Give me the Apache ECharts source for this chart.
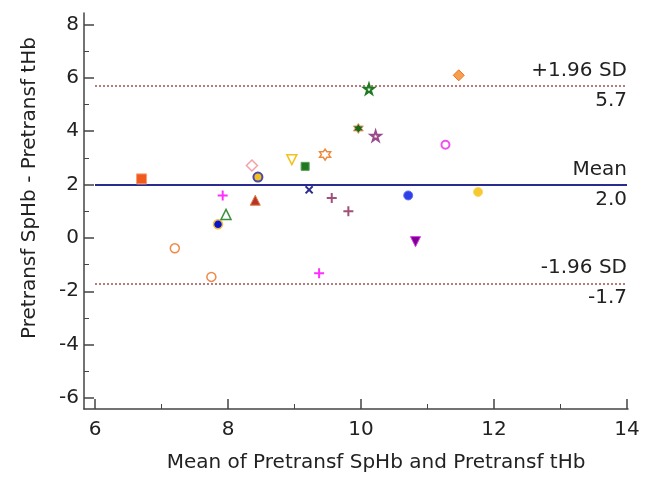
<!DOCTYPE html>
<html>
<head>
<meta charset="utf-8">
<script src="https://cdn.jsdelivr.net/npm/echarts@6/dist/echarts.min.js"></script>
<style>html,body{margin:0;padding:0;background:#fff}#c{width:650px;height:478px}</style>
</head>
<body>
<div id="c"></div>
<script>
// ---- data ----
const meanValues = [6.70, 7.20, 7.75, 7.85, 7.92, 7.97, 8.36, 8.41, 8.45, 8.96, 9.16, 9.22,
                    9.37, 9.46, 9.56, 9.81, 9.96, 10.12, 10.22, 10.71, 10.82, 11.27, 11.47, 11.76];
const diffValues = [2.21, -0.39, -1.46, 0.51, 1.59, 0.88, 2.71, 1.41, 2.28, 2.93, 2.68, 1.80,
                    -1.32, 3.12, 1.49, 1.00, 4.10, 5.58, 3.82, 1.59, -0.14, 3.49, 6.09, 1.72];
const meanDiff = 2.0;
const upperLimit = 5.7;
const lowerLimit = -1.7;
const lineRange = [6, 14];
const xTickValues = [6, 8, 10, 12, 14];
const xMinorTicks = [7, 9, 11, 13];
const yTickValues = [-6, -4, -2, 0, 2, 4, 6, 8];
const yMinorTicks = [-5, -3, -1, 1, 3, 5, 7];
const xTitle = 'Mean of Pretransf SpHb and Pretransf tHb';
const yTitle = 'Pretransf SpHb - Pretransf tHb';

// ---- marker styles (one per subject) ----
const PLUS = 'path://M4,0h2v4h4v2h-4v4h-2v-4h-4v-2h4z';
const STAR5 = 'path://M50,0L61,35L98,35L68,57L79,91L50,70L21,91L32,57L2,35L39,35Z';
const STAR6 = 'path://M50,0L64.4,25L93.3,25L78.9,50L93.3,75L64.4,75L50,100L35.6,75L6.7,75L21.1,50L6.7,25L35.6,25Z';
const markerStyles = [
  {s:'rect', f:'#f05a1a', b:'#f5a080', w:1, z:10},
  {s:'circle', f:'#fff', b:'#f08a4a', w:1.5, z:9},
  {s:'circle', f:'#fff', b:'#f08a4a', w:1.5, z:9},
  {s:'circle', f:'#0a14d0', b:'#f0c23a', w:1.5, z:9},
  {s:PLUS, f:'#ff30ff', b:'#ff30ff', w:0, z:10},
  {s:'triangle', f:'#fff', b:'#3a8f3a', w:1.5, z:10},
  {s:'diamond', f:'#fff', b:'#f4a0a8', w:1.5, z:11},
  {s:'triangle', f:'#b5352a', b:'#e8804a', w:1, z:10},
  {s:'circle', f:'#f2c020', b:'#4848a8', w:2, z:9},
  {s:'triangle', f:'#fff', b:'#f2c21a', w:1.5, z:10, r:180},
  {s:'rect', f:'#1f7a1f', b:'#5a9a5a', w:1, z:8},
  {s:PLUS, f:'#2c2c8c', b:'#2c2c8c', w:0, z:10, r:45},
  {s:PLUS, f:'#ff30ff', b:'#ff30ff', w:0, z:10},
  {s:STAR6, f:'#fff', b:'#f08a3a', w:1.5, z:11},
  {s:PLUS, f:'#a0507a', b:'#a0507a', w:0, z:10},
  {s:PLUS, f:'#a0507a', b:'#a0507a', w:0, z:10},
  {s:STAR6, f:'#1a6a1a', b:'#f0a070', w:1, z:10},
  {s:STAR5, f:'#fff', b:'#1e7a1e', w:2, z:10},
  {s:STAR5, f:'#fff', b:'#9a4a8a', w:2, z:10},
  {s:'circle', f:'#3040e8', b:'#6070f0', w:1, z:9},
  {s:'triangle', f:'#7a0090', b:'#e030f0', w:1, z:10, r:180},
  {s:'circle', f:'#fff', b:'#f050f0', w:2, z:8},
  {s:'diamond', f:'#f5a050', b:'#f07020', w:1, z:11},
  {s:'circle', f:'#f8c830', b:'#f8d860', w:1, z:9}
];

const FONT = 'DejaVu Sans';
const TXT = '#222';

const points = meanValues.map((x, i) => {
  const m = markerStyles[i];
  return {
    value: [x, diffValues[i]],
    symbol: m.s,
    symbolSize: m.z,
    symbolRotate: m.r || 0,
    itemStyle: {color: m.f, borderColor: m.b, borderWidth: m.w, opacity: 1}
  };
});

function lineItem(v, name, style, pos) {
  return [
    {coord: [lineRange[0], v], lineStyle: style,
     label: {show: true, position: pos, formatter: name, color: TXT, fontFamily: FONT, fontSize: 20, distance: [0, 5]}},
    {coord: [lineRange[1], v]}
  ];
}
const meanStyle = {color: '#2b2b8f', width: 2, type: 'solid'};
const sdStyle = {color: '#a05050', width: 1.5, type: [2, 2]};
const hidden = {color: 'rgba(0,0,0,0)', width: 0};

const axisCommon = {
  type: 'value',
  splitLine: {show: false},
  axisLine: {show: true, onZero: false, lineStyle: {color: '#444', width: 1.5}}
};

const chart = echarts.init(document.getElementById('c'));
chart.setOption({
  animation: false,
  backgroundColor: '#fff',
  grid: {left: 84, right: 22, top: 13, bottom: 66, containLabel: false},
  xAxis: [
    Object.assign({}, axisCommon, {
      min: 5.8346, max: 14.015,
      name: xTitle, nameLocation: 'middle', nameGap: 44,
      nameTextStyle: {fontFamily: FONT, fontSize: 20, color: TXT, padding: [0, 0, 0, 40]},
      axisTick: {show: true, inside: true, length: 10, customValues: xTickValues, lineStyle: {color: '#444', width: 1.5}},
      axisLabel: {show: true, customValues: xTickValues, margin: 11, fontFamily: FONT, fontSize: 20, color: TXT}
    }),
    Object.assign({}, axisCommon, {
      min: 5.8346, max: 14.015, position: 'bottom',
      axisLine: {show: false, onZero: false},
      axisTick: {show: true, inside: true, length: 5, customValues: xMinorTicks, lineStyle: {color: '#444', width: 1}},
      axisLabel: {show: false}
    })
  ],
  yAxis: [
    Object.assign({}, axisCommon, {
      min: -6.409, max: 8.424,
      name: yTitle, nameLocation: 'middle', nameGap: 44,
      nameTextStyle: {fontFamily: FONT, fontSize: 20, color: TXT, padding: [0, 0, 0, 46]},
      axisTick: {show: true, inside: true, length: 10, customValues: yTickValues, lineStyle: {color: '#444', width: 1.5}},
      axisLabel: {show: true, customValues: yTickValues, margin: 5, fontFamily: FONT, fontSize: 20, color: TXT}
    }),
    Object.assign({}, axisCommon, {
      min: -6.409, max: 8.424, position: 'left',
      axisLine: {show: false, onZero: false},
      axisTick: {show: true, inside: true, length: 5, customValues: yMinorTicks, lineStyle: {color: '#444', width: 1}},
      axisLabel: {show: false}
    })
  ],
  series: [
    {
      type: 'scatter', xAxisIndex: 0, yAxisIndex: 0, z: 5,
      data: points,
      markLine: {
        silent: true, symbol: 'none', animation: false,
        data: [
          lineItem(upperLimit, '+1.96 SD', sdStyle, 'insideEndTop'),
          lineItem(meanDiff, 'Mean', meanStyle, 'insideEndTop'),
          lineItem(lowerLimit, '-1.96 SD', sdStyle, 'insideEndTop'),
          lineItem(upperLimit, upperLimit.toFixed(1), hidden, 'insideEndBottom'),
          lineItem(meanDiff, meanDiff.toFixed(1), hidden, 'insideEndBottom'),
          lineItem(lowerLimit, lowerLimit.toFixed(1), hidden, 'insideEndBottom')
        ]
      }
    }
  ]
});
</script>
</body>
</html>
